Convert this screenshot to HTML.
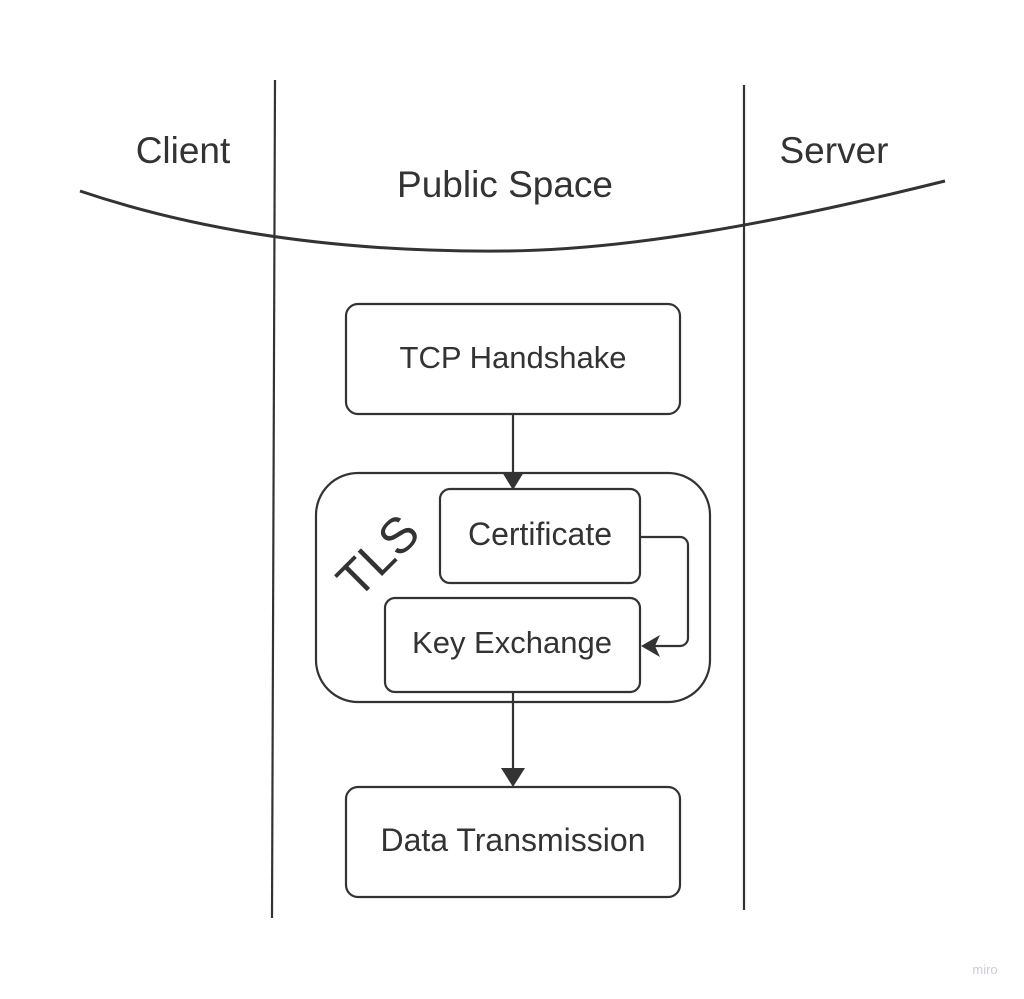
<!DOCTYPE html>
<html><head><style>
html,body{margin:0;padding:0;background:#fff;}
svg{display:block;}
text{font-family:"Liberation Sans",sans-serif;fill:#333;}
</style></head><body>
<svg width="1024" height="999" viewBox="0 0 1024 999">
<rect width="1024" height="999" fill="#fff"/>
<g stroke="#333" fill="none" stroke-width="2.2">
<line x1="275" y1="80" x2="272" y2="918"/>
<line x1="744" y1="85" x2="744" y2="910"/>
<path d="M80 191 C 240 245, 400 252, 505 251 C 630 250, 780 222, 945 181" stroke-width="3"/>
<rect x="346" y="304" width="334" height="110" rx="12"/>
<rect x="316" y="473" width="394" height="229" rx="42"/>
<rect x="440" y="489" width="200" height="94" rx="10"/>
<rect x="385" y="598" width="255" height="94" rx="10"/>
<rect x="346" y="787" width="334" height="110" rx="12"/>
<line x1="513" y1="414" x2="513" y2="478"/>
<line x1="513" y1="692" x2="513" y2="774"/>
<path d="M640 537 H680 a8 8 0 0 1 8 8 V638 a8 8 0 0 1 -8 8 H654"/>
</g>
<g fill="#333">
<polygon points="502,472 524,472 513,490"/>
<polygon points="501,768 525,768 513,787"/>
<polygon points="641,646 660,635 655,646 660,657"/>
</g>
<text x="183" y="163" font-size="37" text-anchor="middle">Client</text>
<text x="505" y="197" font-size="37" text-anchor="middle">Public Space</text>
<text x="834" y="163" font-size="37" text-anchor="middle">Server</text>
<text x="513" y="368" font-size="31" text-anchor="middle">TCP Handshake</text>
<text x="540" y="545" font-size="32" text-anchor="middle">Certificate</text>
<text x="512" y="653" font-size="31" text-anchor="middle">Key Exchange</text>
<text x="513" y="851" font-size="32" text-anchor="middle">Data Transmission</text>
<text x="0" y="0" font-size="50" text-anchor="middle" transform="translate(390,568) rotate(-45)">TLS</text>
<text x="985" y="974" font-size="13" style="fill:#ccccdd" text-anchor="middle">miro</text>
</svg>
</body></html>
